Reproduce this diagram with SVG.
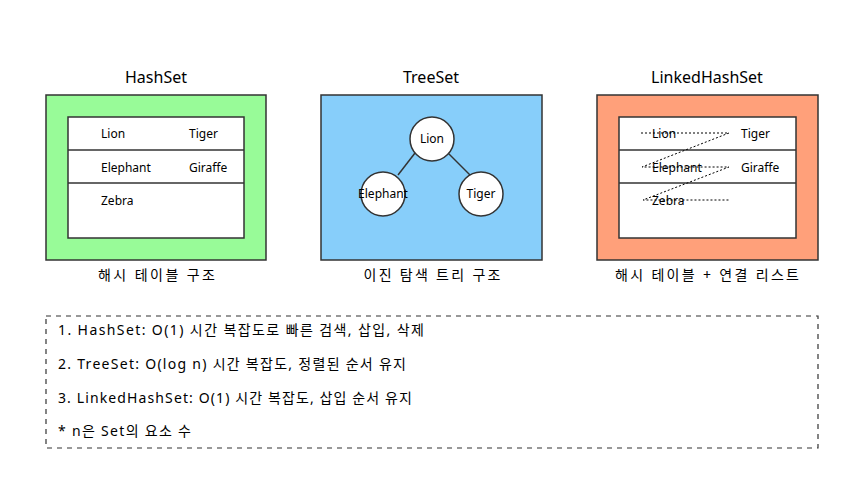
<svg xmlns="http://www.w3.org/2000/svg" width="851" height="490" viewBox="0 0 851 490">
<style>
text{font-family:"Noto Sans","Noto Sans CJK KR",sans-serif;fill:#000}
.title{font-size:16px;text-anchor:middle}
.sub{font-size:14px;text-anchor:middle}
.cell{font-size:12px}
.box{stroke:#333;stroke-width:1.5}
.tbl{fill:#fff;stroke:#333;stroke-width:1.5}
.row{stroke:#333;stroke-width:1.5}
.node{fill:#fff;stroke:#333;stroke-width:1.5}
.edge{stroke:#333;stroke-width:1.5;fill:none}
.link{stroke:#000;stroke-width:1;stroke-dasharray:2,2;fill:none}
.legend{fill:none;stroke:#333;stroke-width:1.2;stroke-dasharray:5,5}
.lt{font-size:14px}
</style>
<rect width="851" height="490" fill="#fff"/>
<g id="hashset">
<text class="title" x="156" y="83">HashSet</text>
<rect class="box" x="46" y="95" width="220" height="165" fill="#98FB98"/>
<rect class="tbl" x="68" y="117" width="176" height="121"/>
<line class="row" x1="68" y1="150" x2="244" y2="150"/>
<line class="row" x1="68" y1="183" x2="244" y2="183"/>
<text class="cell" x="101" y="138">Lion</text>
<text class="cell" x="189" y="138">Tiger</text>
<text class="cell" x="101" y="172">Elephant</text>
<text class="cell" x="189" y="172">Giraffe</text>
<text class="cell" x="101" y="205">Zebra</text>
<text class="sub" x="156.5" y="280" textLength="117" lengthAdjust="spacing">해시 테이블 구조</text>
</g>
<g id="treeset">
<text class="title" x="431" y="83">TreeSet</text>
<rect class="box" x="321" y="95" width="221" height="165" fill="#87CEFA"/>
<g id="tree-edges">
<line class="edge" x1="415" y1="153" x2="398" y2="175"/>
<line class="edge" x1="448" y1="153" x2="470" y2="175"/>
</g>
<g id="node-lion"><circle class="node" cx="432" cy="139" r="22"/><text class="cell" x="432" y="143" text-anchor="middle">Lion</text></g>
<g id="node-elephant"><circle class="node" cx="383" cy="194" r="22"/><text class="cell" x="383" y="198" text-anchor="middle">Elephant</text></g>
<g id="node-tiger"><circle class="node" cx="481" cy="194" r="22"/><text class="cell" x="481" y="198" text-anchor="middle">Tiger</text></g>
<text class="sub" x="432" y="280" textLength="137" lengthAdjust="spacing">이진 탐색 트리 구조</text>
</g>
<g id="linkedhashset">
<text class="title" x="707" y="83">LinkedHashSet</text>
<rect class="box" x="597" y="95" width="221" height="165" fill="#FFA07A"/>
<rect class="tbl" x="619" y="117" width="177" height="121"/>
<line class="row" x1="619" y1="150" x2="796" y2="150"/>
<line class="row" x1="619" y1="183" x2="796" y2="183"/>
<text class="cell" x="652" y="138">Lion</text>
<text class="cell" x="741" y="138">Tiger</text>
<text class="cell" x="652" y="172">Elephant</text>
<text class="cell" x="741" y="172">Giraffe</text>
<text class="cell" x="652" y="205">Zebra</text>
<g id="links">
<path class="link" d="M641 133 L729 133 L642 167 L729 167 L643 200 L729 200"/>
</g>
<text class="sub" x="707" y="280" textLength="184" lengthAdjust="spacing">해시 테이블 + 연결 리스트</text>
</g>
<g id="legend">
<rect class="legend" x="46" y="316" width="772" height="132"/>
<text class="lt" x="58" y="335" textLength="366" lengthAdjust="spacing">1. HashSet: O(1) 시간 복잡도로 빠른 검색, 삽입, 삭제</text>
<text class="lt" x="58" y="369" textLength="348" lengthAdjust="spacing">2. TreeSet: O(log n) 시간 복잡도, 정렬된 순서 유지</text>
<text class="lt" x="58" y="403" textLength="354" lengthAdjust="spacing">3. LinkedHashSet: O(1) 시간 복잡도, 삽입 순서 유지</text>
<text class="lt" x="58" y="436" textLength="133" lengthAdjust="spacing">* n은 Set의 요소 수</text>
</g>
</svg>
